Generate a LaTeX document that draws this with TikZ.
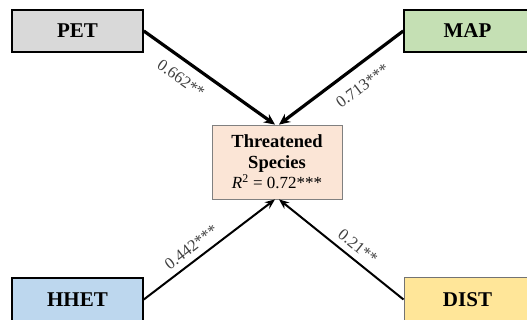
\documentclass[tikz,border=0pt]{standalone}
\usepackage{fontspec}
\setmainfont{Liberation Serif}
\usetikzlibrary{arrows.meta}
\definecolor{petfill}{HTML}{D9D9D9}
\definecolor{mapfill}{HTML}{C5E0B4}
\definecolor{hhetfill}{HTML}{BDD7EE}
\definecolor{distfill}{HTML}{FFE699}
\definecolor{ctrfill}{HTML}{FBE5D6}
\definecolor{lblgray}{HTML}{404040}
\tikzset{
  varbox/.style={draw=black, line width=1.6pt, minimum height=42pt, inner sep=0pt,
    font=\fontsize{21}{24}\selectfont\bfseries},
  thickarr/.style={line width=3.2pt, -{Stealth[length=11pt,width=10pt]}},
  thinarr/.style={line width=2pt, -{Stealth[length=10pt,width=8pt]}},
  coef/.style={text=lblgray, font=\fontsize{16.5}{18}\selectfont, sloped, inner sep=2pt}
}
\begin{document}
\begin{tikzpicture}[x=1pt,y=1pt]
\useasboundingbox (0,0) rectangle (527,320);
\node[varbox, fill=petfill, minimum width=131pt] (pet) at (77.5,289) {PET};
\node[varbox, fill=mapfill, minimum width=127pt] (map) at (467.5,289) {MAP};
\node[varbox, fill=hhetfill, minimum width=131pt, minimum height=43pt] (hhet) at (77.5,20.5) {HHET};
\node[varbox, fill=distfill, draw=gray!90!black, line width=1pt, minimum width=127pt, minimum height=43pt] (dist) at (467.5,20.5) {DIST};
\node[draw=gray, line width=0.8pt, fill=ctrfill, minimum width=130pt, minimum height=74pt, inner sep=0pt, align=center,
  font=\fontsize{18.5}{21}\selectfont\bfseries] (ctr) at (277,158)
  {Threatened\\Species\\[-1pt]{\normalfont\fontsize{17}{20}\selectfont\textit{R}\textsuperscript{2} = 0.72***}};
\coordinate (tl) at ([xshift=-2pt]ctr.north);
\coordinate (tr) at ([xshift=2pt]ctr.north);
\coordinate (bl) at ([xshift=-2pt]ctr.south);
\coordinate (br) at ([xshift=2pt]ctr.south);
\draw[thickarr] (pet.east) -- node[coef, pos=0.36, below=8pt] {0.662**} (tl);
\draw[thickarr] (map.west) -- node[coef, pos=0.42, below=10pt] {0.713***} (tr);
\draw[thinarr] (hhet.east) -- node[coef, pos=0.42, above=4pt] {0.442***} (bl);
\draw[thinarr] (dist.west) -- node[coef, pos=0.43, above=4pt] {0.21**} (br);
\end{tikzpicture}
\end{document}
